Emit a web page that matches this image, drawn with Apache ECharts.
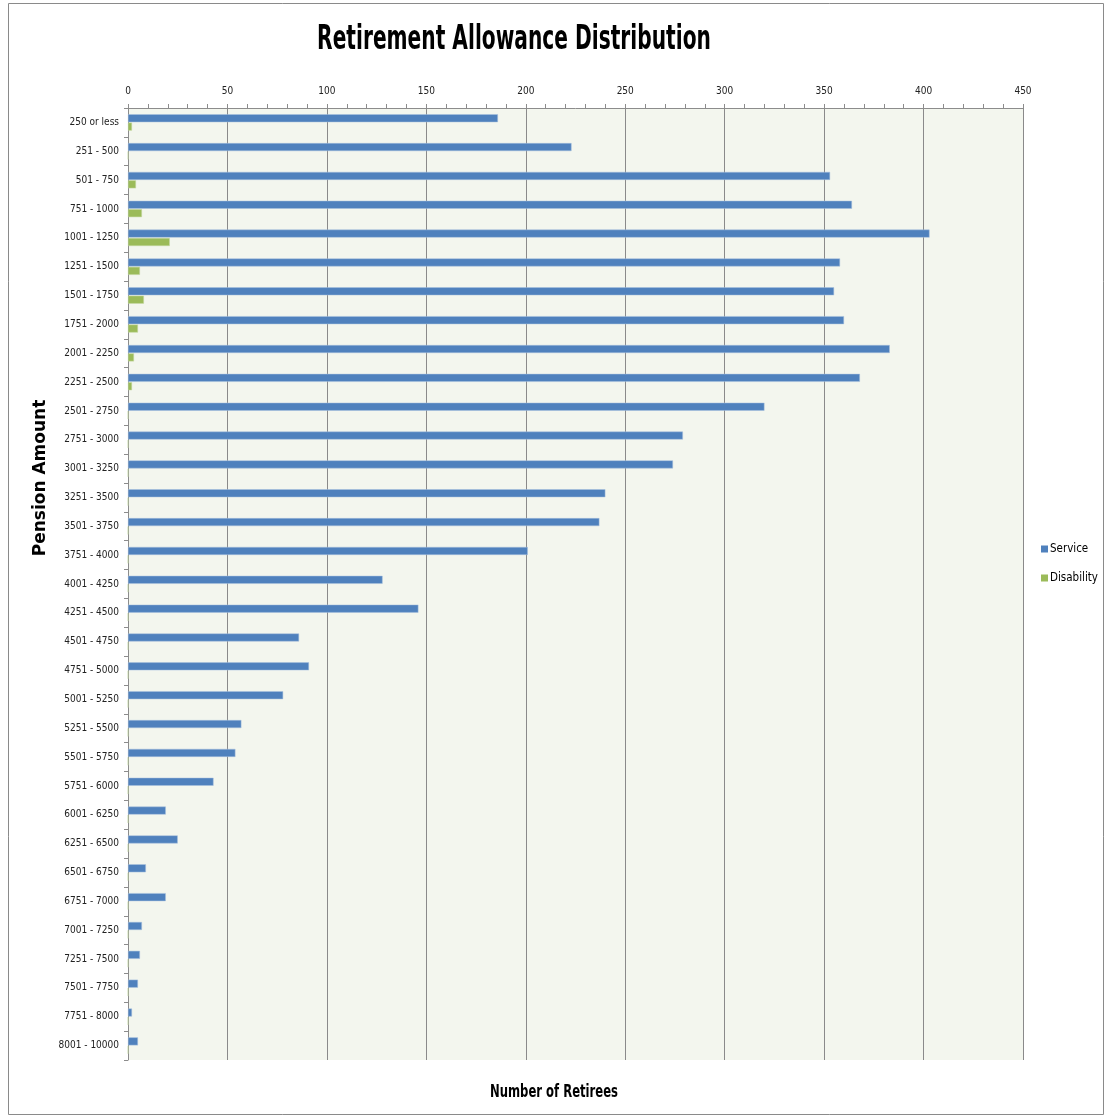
<!DOCTYPE html>
<html>
<head>
<meta charset="utf-8">
<script src="https://cdn.jsdelivr.net/npm/echarts@6/dist/echarts.min.js"></script>
<style>
  html, body { margin: 0; padding: 0; background: #ffffff; }
  #chart { width: 1107px; height: 1118px; }
</style>
</head>
<body>
<div id="chart"></div>
<script>
// Pension amount brackets (monthly allowance ranges)
const categories = [
  '250 or less', '251 - 500', '501 - 750', '751 - 1000', '1001 - 1250',
  '1251 - 1500', '1501 - 1750', '1751 - 2000', '2001 - 2250', '2251 - 2500',
  '2501 - 2750', '2751 - 3000', '3001 - 3250', '3251 - 3500', '3501 - 3750',
  '3751 - 4000', '4001 - 4250', '4251 - 4500', '4501 - 4750', '4751 - 5000',
  '5001 - 5250', '5251 - 5500', '5501 - 5750', '5751 - 6000', '6001 - 6250',
  '6251 - 6500', '6501 - 6750', '6751 - 7000', '7001 - 7250', '7251 - 7500',
  '7501 - 7750', '7751 - 8000', '8001 - 10000'
];

// Number of retirees per bracket
const serviceRetirees = [
  186, 223, 353, 364, 403, 358, 355, 360, 383, 368,
  320, 279, 274, 240, 237, 201, 128, 146, 86, 91,
  78, 57, 54, 43, 19, 25, 9, 19, 7, 6,
  5, 2, 5
];
const disabilityRetirees = [
  2, 0, 4, 7, 21, 6, 8, 5, 3, 2,
  0, 0, 0, 0, 0, 0, 0, 0, 0, 0,
  0, 0, 0, 0, 0, 0, 0, 0, 0, 0,
  0, 0, 0
];

const seriesNames = ['Service', 'Disability'];
const xTicks = { min: 0, max: 450, step: 50 };

const narrow = '"DejaVu Sans Condensed", "Liberation Sans", sans-serif';

const chart = echarts.init(document.getElementById('chart'), null, { renderer: 'canvas' });

chart.setOption({
  animation: false,
  backgroundColor: '#ffffff',
  legend: {
    orient: 'vertical',
    left: 1036,
    top: 538,
    itemWidth: 7,
    itemHeight: 7,
    itemGap: 17,
    icon: 'rect',
    data: seriesNames,
    itemStyle: { borderWidth: 0 },
    textStyle: { fontFamily: narrow, fontSize: 11.5, color: '#000000', padding: [0, 0, 0, -3] }
  },
  grid: {
    left: 128,
    right: 84,
    top: 108,
    bottom: 58,
    show: true,
    backgroundColor: '#F3F6EE',
    borderWidth: 0
  },
  xAxis: {
    type: 'value',
    position: 'top',
    min: xTicks.min,
    max: xTicks.max,
    interval: xTicks.step,
    axisLine: { show: true, lineStyle: { color: '#8c8c8c', width: 1 } },
    axisTick: { show: true, inside: false, length: 4, lineStyle: { color: '#8c8c8c' } },
    minorTick: { show: true, splitNumber: 5, length: 4, lineStyle: { color: '#8c8c8c' } },
    axisLabel: { fontFamily: narrow, fontSize: 10, color: '#222222', margin: 12 },
    splitLine: { show: true, lineStyle: { color: '#8a8a8a', width: 1 } }
  },
  yAxis: {
    type: 'category',
    inverse: true,
    data: categories,
    axisLine: { show: true, lineStyle: { color: '#8c8c8c', width: 1 } },
    axisTick: { show: true, length: 4, alignWithLabel: false, lineStyle: { color: '#8c8c8c' } },
    axisLabel: { fontFamily: narrow, fontSize: 10, color: '#222222', margin: 9 },
    splitLine: { show: false }
  },
  graphic: [
    {
      type: 'rect',
      shape: { x: 8.5, y: 3.5, width: 1095, height: 1111 },
      style: { fill: 'none', stroke: '#8a8a8a', lineWidth: 1 },
      silent: true,
      z: -10
    },
    {
      // chart title, horizontally condensed
      type: 'text',
      x: 514,
      y: 40,
      scaleX: 0.68,
      style: {
        text: 'Retirement Allowance Distribution',
        font: 'bold 33px ' + narrow,
        fill: '#000000',
        textAlign: 'center',
        textVerticalAlign: 'middle'
      }
    },
    {
      type: 'text',
      x: 554,
      y: 1093,
      scaleX: 0.76,
      style: {
        text: 'Number of Retirees',
        font: 'bold 17px ' + narrow,
        fill: '#000000',
        textAlign: 'center',
        textVerticalAlign: 'middle'
      }
    },
    {
      type: 'text',
      x: 41,
      y: 478,
      rotation: Math.PI / 2,
      style: {
        text: 'Pension Amount',
        font: 'bold 17px "DejaVu Sans", Verdana, sans-serif',
        fill: '#000000',
        textAlign: 'center',
        textVerticalAlign: 'middle'
      }
    }
  ],
  series: [
    {
      name: seriesNames[0],
      type: 'bar',
      data: serviceRetirees,
      barWidth: 8,
      barGap: '5%',
      itemStyle: { color: '#4F81BD', borderColor: '#A9C0DE', borderWidth: 0.5 }
    },
    {
      name: seriesNames[1],
      type: 'bar',
      data: disabilityRetirees,
      barWidth: 8,
      itemStyle: { color: '#9BBB59', borderColor: '#C7D9A5', borderWidth: 0.5 }
    }
  ]
});
</script>
</body>
</html>
